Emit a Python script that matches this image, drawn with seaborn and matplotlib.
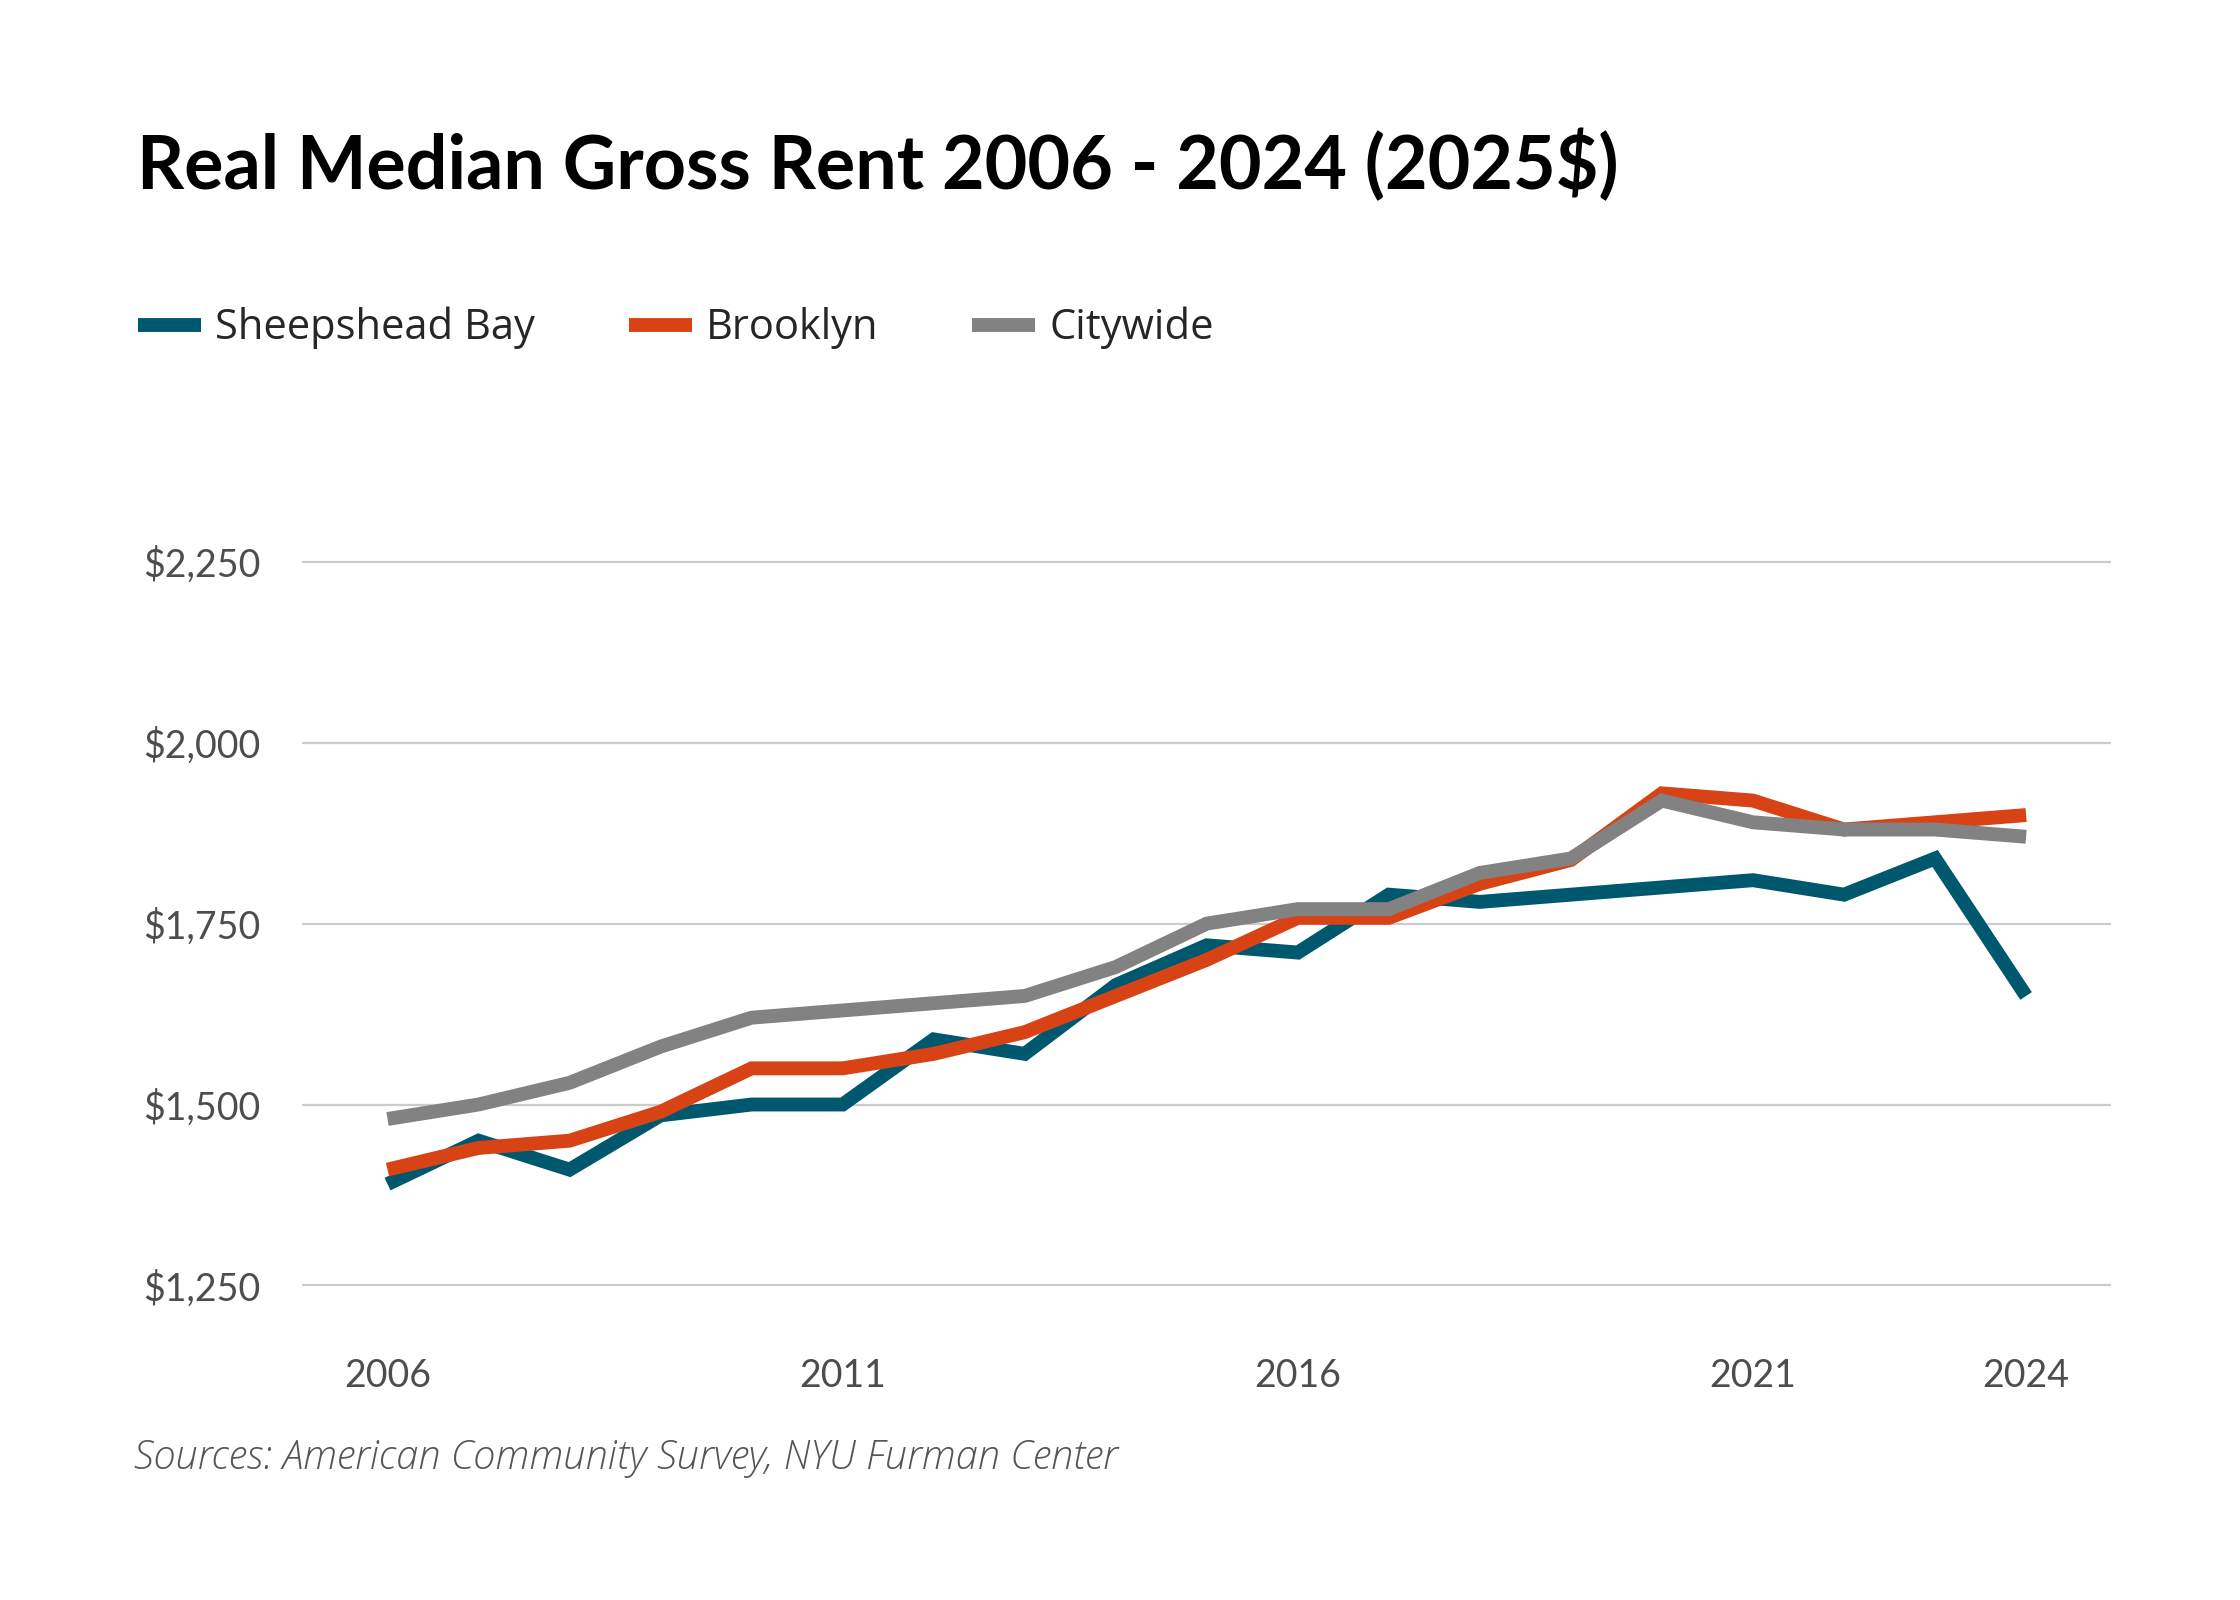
import pandas as pd
import matplotlib.pyplot as plt
import seaborn as sns
from matplotlib.ticker import FuncFormatter

# values (2025 dollars)
years = list(range(2006, 2025))
sheepshead_bay = [1390, 1450, 1410, 1485, 1500, 1500, 1590, 1570, 1665, 1720,
                  1710, 1790, 1780, 1790, 1800, 1810, 1790, 1840, 1650]
brooklyn = [1410, 1440, 1450, 1490, 1550, 1550, 1570, 1600, 1650, 1700,
            1758, 1758, 1805, 1838, 1930, 1920, 1880, 1890, 1900]
citywide = [1480, 1500, 1530, 1580, 1620, 1630, 1640, 1650, 1690, 1750,
            1770, 1770, 1820, 1840, 1920, 1890, 1880, 1880, 1870]

series_names = ['Sheepshead Bay', 'Brooklyn', 'Citywide']
colors = ['#00586F', '#D84315', '#828282']
x_ticks = [2006, 2011, 2016, 2021, 2024]
y_ticks = [1250, 1500, 1750, 2000, 2250]

df = pd.DataFrame({'Year': years,
                   'Sheepshead Bay': sheepshead_bay,
                   'Brooklyn': brooklyn,
                   'Citywide': citywide})
long_df = df.melt(id_vars='Year', var_name='Area', value_name='Rent')

sns.set_style('white')
plt.rcParams['font.family'] = ['Lato', 'DejaVu Sans']

fig = plt.figure(figsize=(11.2, 8), dpi=200)
ax = fig.add_axes([0.1348, 0.174, 0.8075, 0.4975])

sns.lineplot(data=long_df, x='Year', y='Rent', hue='Area', hue_order=series_names,
             palette=colors, linewidth=5, ax=ax, legend=False)
for line in ax.lines:
    line.set_solid_joinstyle('miter')
    line.set_solid_capstyle('butt')

ax.set_xlim(2005.06, 2024.93)
ax.set_ylim(1200, 2300)
ax.set_xticks(x_ticks)
ax.set_yticks(y_ticks)
ax.yaxis.set_major_formatter(FuncFormatter(lambda v, p: f'${v:,.0f}'))
ax.grid(axis='y', color='#cccccc', linewidth=0.8)
ax.grid(axis='x', visible=False)
for s in ax.spines.values():
    s.set_visible(False)
ax.tick_params(axis='both', length=0, labelsize=13.5, labelcolor='#4d4d4d')
ax.tick_params(axis='y', pad=15)
ax.tick_params(axis='x', pad=13)
ax.set_xlabel('')
ax.set_ylabel('')

fig.text(0.061, 0.882, 'Real Median Gross Rent 2006 - 2024 (2025$)',
         fontsize=26.5, fontweight='bold', color='black', va='baseline')

# legend row
handles = [plt.Line2D([], [], color=c, linewidth=5, solid_capstyle='butt') for c in colors]
fig.legend(handles, series_names, loc='center left', bbox_to_anchor=(0.045, 0.795),
           ncol=3, frameon=False, handlelength=1.5, handletextpad=0.35,
           columnspacing=2.25, prop={'family': 'Open Sans', 'size': 15})

fig.text(0.06, 0.089, 'Sources: American Community Survey, NYU Furman Center',
         fontsize=14.3, fontstyle='italic', fontweight='light', color='#555555',
         va='center', family=['Open Sans', 'DejaVu Sans'])

fig.savefig('out.png', dpi=200)
